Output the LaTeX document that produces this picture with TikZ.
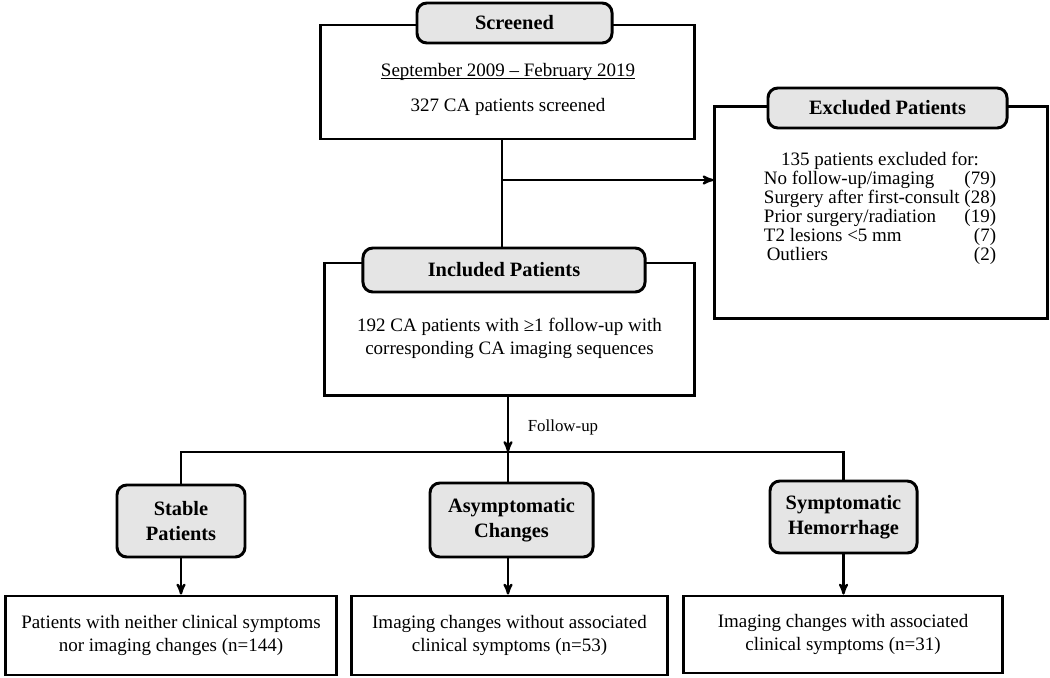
\documentclass[tikz,border=0pt]{standalone}
\usepackage{fontspec}
\setmainfont{Liberation Serif}
\usepackage{tikz}
\usetikzlibrary{shapes}
\usetikzlibrary{arrows}
\tikzset{
	head node/.style={rectangle,draw,rounded corners=7pt,fill=black!10,line width=2.1pt,
		font=\bfseries\fontsize{14.5}{18}\selectfont,align=center,inner sep=2pt},
	frame node/.style={rectangle,draw,line width=2.1pt,inner sep=0pt},
	result node/.style={rectangle,draw,line width=2.1pt,align=center,font=\fontsize{13.5}{15.8}\selectfont},
	body/.style={font=\fontsize{13.5}{16.3}\selectfont,align=center}
}

\begin{document}
\begin{tikzpicture}[->,>=stealth',x=0.025cm,y=-0.025cm,line width=1.6pt]
	    \useasboundingbox (0,0) rectangle (1050,677);

	    \node[frame node,minimum width=9.33cm,minimum height=2.85cm] (b1) at (507.5,82) {};
	    \node[head node,minimum width=4.875cm,minimum height=1cm] (1) at (514.5,23) {Screened};
	    \node[body] (t1) at (508,96) {\underline{\smash{September 2009 – February 2019}}\\[9pt]327 CA patients screened};

	    \node[frame node,minimum width=8.3cm,minimum height=5.275cm] (b2) at (881,212.5) {};
	    \node[head node,minimum width=5.975cm,minimum height=1cm] (2) at (887.5,108) {Excluded Patients};
	    \node[font=\fontsize{13.5}{13.5}\selectfont] (t2) at (880,209)
	        {
	          \begin{tabular}{@{}l@{ }r@{}}
	          \multicolumn{2}{c}{135 patients excluded for:}\\
	          No follow-up/imaging & (79)\\
	          Surgery after first-consult & (28)\\
	          Prior surgery/radiation & (19)\\
	          T2 lesions <5 mm & (7)\\
	          \hspace{2pt}Outliers & (2)
	          \end{tabular}
	        };

	    \node[frame node,minimum width=9.225cm,minimum height=3.3cm] (b3) at (509.5,329) {};
	    \node[head node,minimum width=7.05cm,minimum height=1.1cm] (3) at (504,270) {Included Patients};
	    \node[body] (t3) at (509.5,338) {192 CA patients with ≥1 follow-up with\\corresponding CA imaging sequences};

	    \node[head node,minimum width=3.2cm,minimum height=1.8cm] (4) at (181,521) {Stable\\Patients};
	    \node[head node,minimum width=4.075cm,minimum height=1.85cm] (5) at (511.5,520) {Asymptomatic\\Changes};
	    \node[head node,minimum width=3.675cm,minimum height=1.8cm] (6) at (843.5,517) {Symptomatic\\Hemorrhage};

	    \node[result node,minimum width=8.25cm,minimum height=1.975cm] (b4) at (171,635.5)
	        {Patients with neither clinical symptoms\\nor imaging changes (n=144)};
	    \node[result node,minimum width=7.875cm,minimum height=1.975cm] (b5) at (509.5,635.5)
	        {Imaging changes without associated\\clinical symptoms (n=53)};
	    \node[result node,minimum width=7.95cm,minimum height=1.925cm] (b6) at (843,634.5)
	        {Imaging changes with associated\\clinical symptoms (n=31)};

	    \coordinate (c1) at (502,180);
	    \coordinate (c2) at (508,452);
	    \node[font=\fontsize{12}{14}\selectfont,anchor=west] (f) at (522,427) {Follow-up};

	    % screened -> included / excluded
	    \draw[-] (c1 |- b1.south) -- (c1 |- 3.north);
	    \draw (c1) -- (c1 -| b2.west);

	    % follow-up split
	    \draw (c2 |- b3.south) -- (c2);
	    \draw[-] (4.north) -- (4.north |- c2) -- (6.north |- c2) -- (6.north);
	    \draw[-] (c2) -- (c2 |- 5.north);

	    \draw (4.south) -- (4.south |- b4.north);
	    \draw (c2 |- 5.south) -- (c2 |- b5.north);
	    \draw (6.south) -- (6.south |- b6.north);
	  \end{tikzpicture}
\end{document}
